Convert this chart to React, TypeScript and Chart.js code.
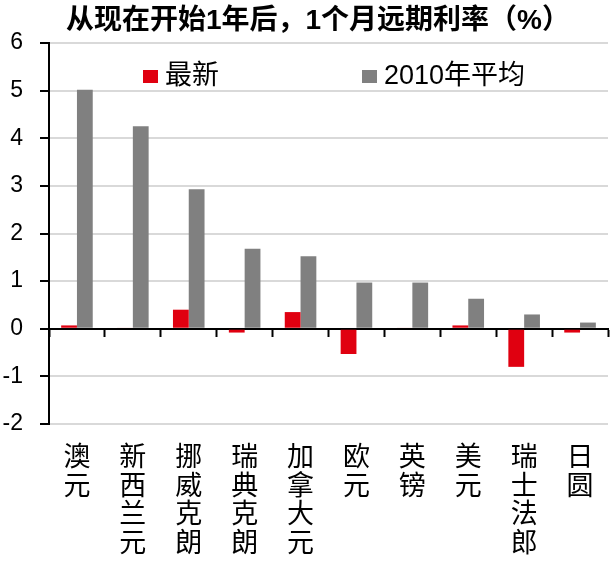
import React, { useEffect, useRef } from "react";
import { Chart, registerables } from "chart.js";

Chart.register(...registerables);

const titleText = "从现在开始1年后，1个月远期利率（%）";
const categories: string[][] = [
  ["澳", "元"],
  ["新", "西", "兰", "元"],
  ["挪", "威", "克", "朗"],
  ["瑞", "典", "克", "朗"],
  ["加", "拿", "大", "元"],
  ["欧", "元"],
  ["英", "镑"],
  ["美", "元"],
  ["瑞", "士", "法", "郎"],
  ["日", "圆"],
];
const seriesNames = ["最新", "2010年平均"];
const latest = [0.07, 0.02, 0.4, -0.08, 0.35, -0.53, 0.02, 0.07, -0.8, -0.08];
const avg2010 = [5.02, 4.25, 2.93, 1.68, 1.52, 0.97, 0.97, 0.63, 0.3, 0.13];
const yTicks = [-2, -1, 0, 1, 2, 3, 4, 5, 6];

const RED = "#E00010";
const GRAY = "#808080";
const FONT = '"Liberation Sans", "Noto Sans CJK SC", sans-serif';

const overlayPlugin = {
  id: "overlay",
  afterDraw(chart: any) {
    const ctx = chart.ctx;
    ctx.save();
    // title
    ctx.fillStyle = "#000";
    ctx.font = `bold 28px ${FONT}`;
    ctx.textAlign = "center";
    ctx.textBaseline = "middle";
    ctx.fillText(titleText, 318, 21);
    // legend
    const itemX = [143, 362];
    ctx.font = `27px ${FONT}`;
    ctx.textAlign = "left";
    chart.data.datasets.forEach((ds: any, i: number) => {
      const x = itemX[i];
      ctx.fillStyle = ds.backgroundColor;
      ctx.fillRect(x, 70, 15, 13);
      ctx.fillStyle = "#000";
      ctx.fillText(ds.label, x + 22, 77);
    });
    ctx.restore();
  },
};

export default function App() {
  const ref = useRef<HTMLCanvasElement | null>(null);
  useEffect(() => {
    if (!ref.current) return;
    const chart = new Chart(ref.current, {
      type: "bar",
      data: {
        labels: categories as any,
        datasets: [
          { label: seriesNames[0], data: latest, backgroundColor: RED, categoryPercentage: 0.565, barPercentage: 1 },
          { label: seriesNames[1], data: avg2010, backgroundColor: GRAY, categoryPercentage: 0.565, barPercentage: 1 },
        ],
      },
      options: {
        responsive: false,
        animation: false,
        layout: { padding: { top: 43, right: 8, left: 0, bottom: 0 } },
        plugins: {
          legend: { display: false },
          title: { display: false },
          tooltip: { enabled: false },
        },
        scales: {
          x: {
            type: "category",
            position: "bottom",
            offset: true,
            grid: { display: false, drawTicks: false },
            border: { display: false },
            ticks: {
              autoSkip: false,
              maxRotation: 0,
              minRotation: 0,
              color: "#000",
              padding: 20,
              font: { family: FONT, size: 27, lineHeight: 1.063 },
            },
            afterFit: (s: any) => {
              s.height = 140;
            },
          },
          x0: {
            type: "category",
            axis: "x",
            position: { y: 0 } as any,
            offset: true,
            grid: {
              display: true,
              drawOnChartArea: false,
              drawTicks: true,
              tickLength: 7,
              tickColor: "#000",
              tickWidth: 2,
              offset: true,
            },
            border: { display: true, color: "#000", width: 2 },
            ticks: { display: false },
          },
          y: {
            min: -2,
            max: 6,
            afterBuildTicks: (s: any) => {
              s.ticks = yTicks.map((v) => ({ value: v }));
            },
            grid: {
              color: (c: any) => (c.tick && c.tick.value === 0 ? "#000" : "#d9d9d9"),
              lineWidth: 2,
              tickColor: "#000",
              tickLength: 9,
              tickWidth: 2,
            },
            border: { display: true, color: "#000", width: 2 },
            ticks: {
              color: "#000",
              padding: 17,
              font: { family: FONT, size: 23 },
            },
            afterFit: (s: any) => {
              s.width = 49;
            },
          },
        },
      },
      plugins: [overlayPlugin],
    } as any);
    return () => chart.destroy();
  }, []);
  return (
    <div style={{ position: "fixed", left: 0, top: 0, width: 616, height: 564, background: "#fff" }}>
      <canvas ref={ref} width={616} height={564} />
    </div>
  );
}
